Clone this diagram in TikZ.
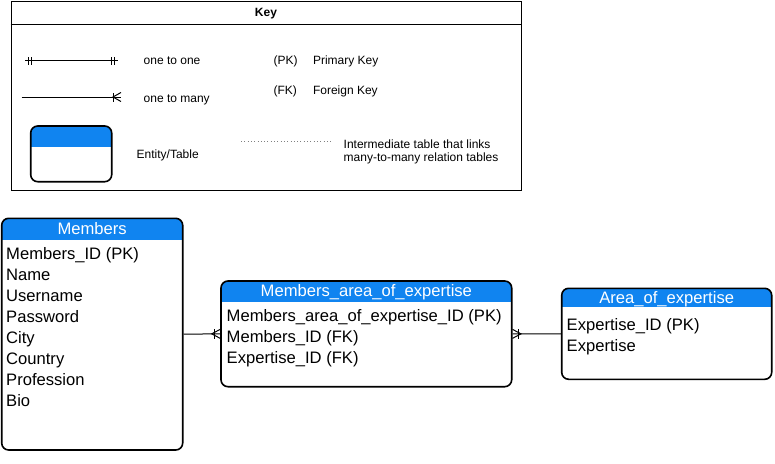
\documentclass[tikz,border=0pt]{standalone}
\usepackage{fontspec}
\setmainfont{Liberation Sans}
\definecolor{entblue}{RGB}{16,132,240}
\tikzset{
  entity/.style={draw, line width=1.6pt, rounded corners=7pt, fill=white, inner sep=0pt,
    path picture={\fill[entblue, sharp corners] ([xshift=-2pt,yshift=2pt]path picture bounding box.north west) rectangle ([xshift=2pt,yshift=-#1]path picture bounding box.north east);}},
  keytxt/.style={anchor=base west, inner sep=0pt, font=\fontsize{12}{13}\selectfont},
  rowtxt/.style={anchor=base west, inner sep=0pt, font=\fontsize{16.6}{20}\selectfont},
  titletxt/.style={anchor=base, inner sep=0pt, text=white, font=\fontsize{16.6}{20}\selectfont},
  conn/.style={line width=1pt},
}
\begin{document}
\begin{tikzpicture}[x=1pt,y=-1pt]
\useasboundingbox (0,0) rectangle (775,463);
% ---- Key ----
\node[draw, line width=1pt, minimum width=510pt, minimum height=189pt, inner sep=0pt] (keybox) at (266,95.5) {};
\draw[line width=1pt] (keybox.west |- 0,24) -- (keybox.east |- 0,24);
\node[anchor=base, inner sep=0pt, font=\fontsize{12}{13}\selectfont\bfseries] (keytitle) at (266,16.7) {Key};
% one to one
\coordinate (oa) at (25,60.7);
\coordinate (ob) at (118,60.7);
\draw[conn] (oa) -- (ob);
\foreach \xx in {28.3,31} \draw[conn] ([xshift=\xx pt-25pt, yshift=-4pt]oa) -- ([xshift=\xx pt-25pt, yshift=4pt]oa);
\foreach \xx in {111.7,114.4} \draw[conn] ([xshift=\xx pt-118pt, yshift=-4pt]ob) -- ([xshift=\xx pt-118pt, yshift=4pt]ob);
\node[keytxt] (t1) at (143.5,64.5) {one to one};
% one to many
\coordinate (ma) at (21.5,97);
\coordinate (mb) at (121,97);
\draw[conn] (ma) -- (mb);
\draw[conn] ([xshift=-7.5pt, yshift=-4.5pt]mb) -- ([xshift=-7.5pt, yshift=4.5pt]mb);
\draw[conn] ([xshift=-0pt, yshift=-4.5pt]mb) -- ([xshift=-8pt]mb) -- ([xshift=0pt, yshift=4.5pt]mb);
\node[keytxt] (t2) at (143.5,102.5) {one to many};
% entity icon
\node[entity=20.7pt, minimum width=81pt, minimum height=55.7pt] (icon) at (71.2,153.85) {};
\node[keytxt] (t3) at (136.5,158) {Entity/Table};
% PK FK
\node[keytxt] (pk) at (273.3,64.5) {(PK)};
\node[keytxt] (pkt) at (312.8,64.5) {Primary Key};
\node[keytxt] (fk) at (273.3,94.5) {(FK)};
\node[keytxt] (fkt) at (312.8,94.5) {Foreign Key};
% dotted
\coordinate (da) at (241,141.5);
\coordinate (db) at (332,141.5);
\draw[line width=0.7pt, gray, dash pattern=on 0.7pt off 2.6pt] (da) -- (db);
\node[keytxt] (it1) at (343.5,148) {Intermediate table that links};
\node[keytxt] (it2) at (343.5,161.5) {many-to-many relation tables};
% ---- Members ----
\node[entity=21.7pt, minimum width=181pt, minimum height=231.7pt] (members) at (92.2,334.15) {};
\node[titletxt] (mt) at (92.2,234.5) {Members};
\node[rowtxt] (m1) at (6,259.3) {Members\_ID (PK)};
\node[rowtxt] (m2) at (6,280.3) {Name};
\node[rowtxt] (m3) at (6,301.3) {Username};
\node[rowtxt] (m4) at (6,322.3) {Password};
\node[rowtxt] (m5) at (6,343.3) {City};
\node[rowtxt] (m6) at (6,364.3) {Country};
\node[rowtxt] (m7) at (6,385.3) {Profession};
\node[rowtxt] (m8) at (6,406.3) {Bio};
% ---- Members_area_of_expertise ----
\node[entity=20.7pt, minimum width=290.7pt, minimum height=105.7pt] (mae) at (366.35,333.85) {};
\node[titletxt] (maet) at (366.35,296) {Members\_area\_of\_expertise};
\node[rowtxt] (a1) at (226.5,321.5) {Members\_area\_of\_expertise\_ID (PK)};
\node[rowtxt] (a2) at (226.5,342.5) {Members\_ID (FK)};
\node[rowtxt] (a3) at (226.5,363.5) {Expertise\_ID (FK)};
% ---- Area_of_expertise ----
\node[entity=19pt, minimum width=210pt, minimum height=91pt] (aoe) at (666.7,333.8) {};
\node[titletxt] (aoet) at (666.7,303) {Area\_of\_expertise};
\node[rowtxt] (e1) at (566.5,330) {Expertise\_ID (PK)};
\node[rowtxt] (e2) at (566.5,351) {Expertise};
% ---- connectors ----
\draw[conn] (members.east) -- (mae.west);
\draw[conn] ([xshift=-5.5pt, yshift=-5pt]mae.west) -- ([xshift=-5.5pt, yshift=5pt]mae.west);
\draw[conn] ([yshift=-4.5pt]mae.west) -- ([xshift=-8.5pt]mae.west) -- ([yshift=4.5pt]mae.west);
\draw[conn] (aoe.west) -- (mae.east);
\draw[conn] ([xshift=5.5pt, yshift=-5pt]mae.east) -- ([xshift=5.5pt, yshift=5pt]mae.east);
\draw[conn] ([yshift=-4.5pt]mae.east) -- ([xshift=8.5pt]mae.east) -- ([yshift=4.5pt]mae.east);
\end{tikzpicture}
\end{document}
